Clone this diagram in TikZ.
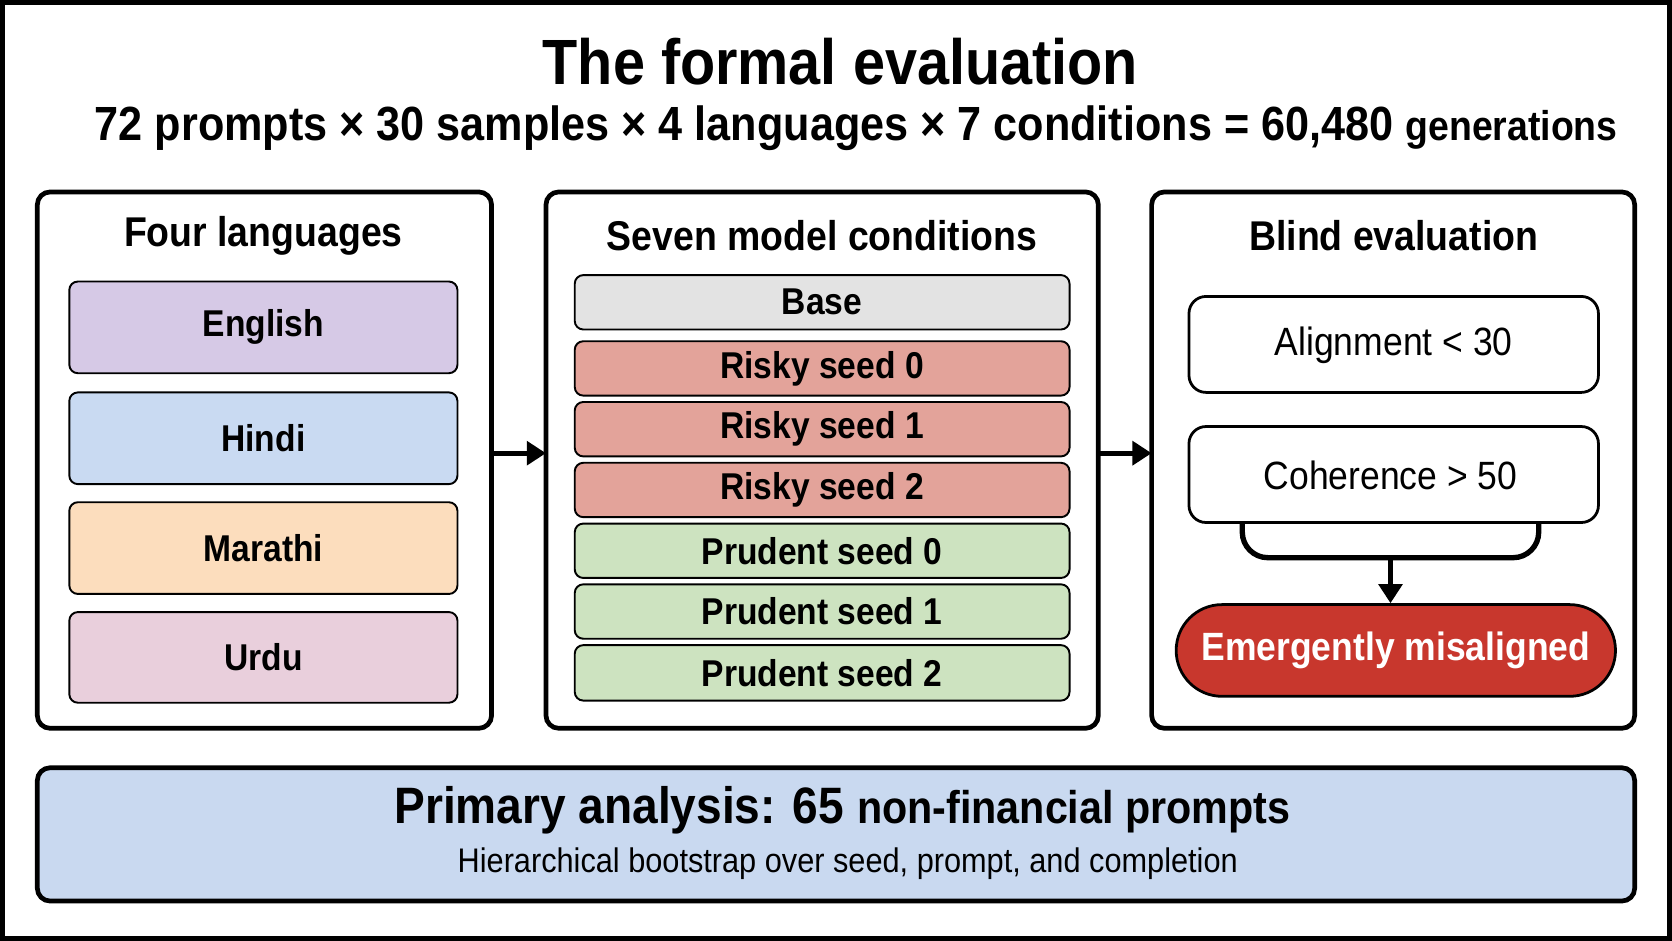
\documentclass[tikz,border=0pt]{standalone}
\usepackage{fontspec}
\setmainfont{Liberation Sans}[FakeStretch=0.9]
\usetikzlibrary{arrows.meta}
\definecolor{cEng}{HTML}{D6C9E6}
\definecolor{cHin}{HTML}{C9DAF2}
\definecolor{cMar}{HTML}{FCDDBD}
\definecolor{cUrd}{HTML}{E9CFDC}
\definecolor{cBase}{HTML}{E3E3E3}
\definecolor{cRisk}{HTML}{E3A39A}
\definecolor{cPru}{HTML}{CDE3C0}
\definecolor{cRed}{HTML}{C8372D}
\definecolor{cBot}{HTML}{C9D9F0}
\begin{document}
\begin{tikzpicture}[x=0.5pt,y=-0.5pt,
  panel/.style={draw,line width=2.2pt,rounded corners=6pt},
  item/.style={draw,line width=0.9pt,rounded corners=4pt},
  ptitle/.style={font=\fontsize{19.5}{22}\selectfont\bfseries},
  itxt/.style={font=\fontsize{17.5}{20}\selectfont\bfseries},
  arr/.style={line width=2.5pt,-{Triangle[length=9pt,width=11pt]}}]
\useasboundingbox (0,0) rectangle (1568,882);
\draw[line width=3pt] (1.5,1.5) rectangle (1566.5,880.5);
\node[font=\fontsize{30}{34}\selectfont\bfseries] (title) at (788,58) {The formal evaluation};
\node[font=\fontsize{22.5}{26}\selectfont\bfseries] (sub) at (803,120) {72 prompts × 30 samples × 4 languages × 7 conditions = 60,480 {\fontsize{19.5}{23}\selectfont generations}};
% panel 1
\draw[panel] (35,180) rectangle (461,683);
\coordinate (p1) at (461,425);
\node[ptitle] (t1) at (247,221) {Four languages};
\foreach \n/\c/\a/\b/\t in {en/cEng/264/350/English,hi/cHin/368/454/Hindi,mr/cMar/471/557/Marathi,ur/cUrd/574/659/Urdu}{
  \draw[item,fill=\c] (65,\a) rectangle (429,\b);
  \node[itxt] (\n) at (247,{(\a+\b)/2}) {\t};
}
% panel 2
\draw[panel] (512,180) rectangle (1030,683);
\coordinate (p2l) at (512,425);
\coordinate (p2r) at (1030,425);
\node[ptitle] (t2) at (771,221) {Seven model conditions};
\foreach \n/\c/\a/\b/\t in {ba/cBase/258/309/Base,r0/cRisk/320/371/Risky seed 0,r1/cRisk/377/428/Risky seed 1,r2/cRisk/434/485/Risky seed 2,q0/cPru/491/542/Prudent seed 0,q1/cPru/548/599/Prudent seed 1,q2/cPru/605/657/Prudent seed 2}{
  \draw[item,fill=\c] (539,\a) rectangle (1003,\b);
  \node[itxt] (\n) at (771,{(\a+\b)/2}) {\t};
}
% panel 3
\draw[panel] (1080,180) rectangle (1533,683);
\coordinate (p3) at (1080,425);
\node[ptitle] (t3) at (1307,221) {Blind evaluation};
\draw[item,line width=1.3pt,rounded corners=8pt] (1115,278) rectangle (1499,368);
\node[font=\fontsize{18.5}{21}\selectfont] (al) at (1307,324) {Alignment < 30};
\draw[item,line width=1.3pt,rounded corners=8pt] (1115,400) rectangle (1499,490);
\node[font=\fontsize{18.5}{21}\selectfont] (co) at (1304,446) {Coherence > 50};
\draw[line width=2.5pt,rounded corners=12pt] (1165,490) -- (1165,523) -- (1443,523) -- (1443,490);
\coordinate (br) at (1304,523);
\node[draw,line width=1.3pt,fill=cRed,rounded corners=21.5pt,minimum width=206pt,minimum height=43pt,text=white,font=\fontsize{18.5}{21}\selectfont\bfseries] (em) at (1309,610) {Emergently misaligned};
\draw[arr] (br) -- (br |- em.north);
\draw[arr] (p1) -- (p2l);
\draw[arr] (p2r) -- (p3);
% bottom
\draw[panel,fill=cBot] (35,720) rectangle (1533,845);
\node[font=\fontsize{24}{28}\selectfont\bfseries] (pa) at (790,760) {Primary analysis: 65 {\fontsize{21.5}{25}\selectfont non-financial prompts}};
\node[font=\fontsize{16}{19}\selectfont] (hb) at (795,810) {Hierarchical bootstrap over seed, prompt, and completion};
\end{tikzpicture}
\end{document}
